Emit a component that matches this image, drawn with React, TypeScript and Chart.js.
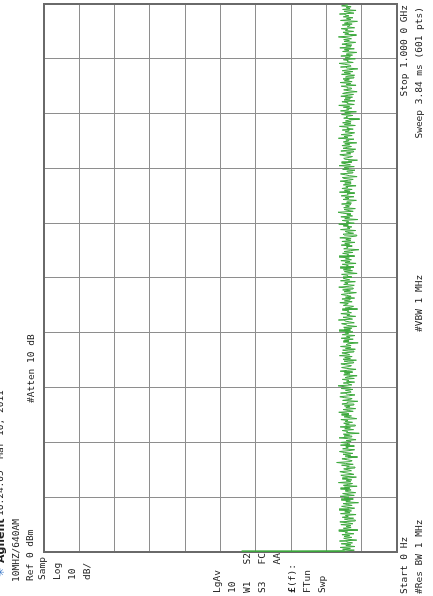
import React, { useEffect, useRef } from "react";
import { Chart, registerables } from "chart.js";

Chart.register(...registerables);

// ---- data ----
const startMHz = 0;
const stopMHz = 1000;
const sweepPoints = 601;
const refLevel = 0;
const dbPerDiv = 10;
const xDivisions = 10;
const yDivisions = 10;

// trace amplitude (dBm), 601 sweep points
const traceDbm: number[] = [
  -56.0, -85.2, -87.9, -84.6, -86.8, -83.9, -88.1, -85.5, -86.9, -84.2, -87.4, -85.8, -83.7, -88.6, -86.1, -84.9, -87.2, -85.0, -86.6, -84.4,
  -87.8, -85.3, -86.0, -83.5, -88.9, -86.4, -84.8, -87.0, -85.6, -86.9, -84.1, -87.5, -85.9, -83.8, -88.2, -86.3, -85.1, -87.7, -84.5, -86.2,
  -85.4, -88.4, -84.0, -86.7, -85.2, -87.1, -83.6, -86.5, -88.0, -85.7, -84.3, -87.3, -86.0, -84.7, -89.1, -85.5, -86.8, -84.2, -87.6, -85.0,
  -86.4, -83.9, -87.9, -85.8, -84.6, -88.3, -86.1, -85.3, -87.0, -84.0, -86.6, -85.1, -88.7, -84.8, -86.3, -87.4, -83.4, -86.9, -85.6, -87.2,
  -84.5, -86.0, -88.5, -85.2, -84.1, -87.8, -86.7, -85.0, -83.8, -87.1, -86.2, -84.9, -88.1, -85.7, -86.5, -84.3, -87.6, -85.4, -82.9, -86.8,
  -87.3, -85.9, -84.4, -86.1, -88.8, -85.3, -86.9, -84.7, -87.5, -85.1, -83.7, -86.4, -88.0, -84.6, -86.2, -85.5, -87.9, -84.0, -86.7, -85.8,
  -84.2, -87.0, -85.6, -88.4, -86.3, -83.6, -87.2, -85.0, -86.6, -84.8, -89.3, -85.7, -86.0, -84.5, -87.7, -85.2, -86.8, -83.9, -88.2, -85.4,
  -86.5, -84.9, -87.4, -85.3, -86.1, -84.1, -88.6, -86.9, -85.0, -87.1, -84.3, -86.4, -85.8, -83.5, -87.6, -86.2, -84.7, -88.3, -85.5, -86.7,
  -85.1, -87.8, -84.4, -86.0, -85.9, -88.9, -84.6, -86.6, -87.3, -85.2, -83.8, -86.3, -88.1, -85.6, -84.0, -87.0, -86.8, -85.4, -87.5, -84.2,
  -86.9, -85.0, -83.3, -87.2, -86.1, -84.8, -88.0, -85.7, -86.4, -84.5, -87.9, -85.3, -86.2, -88.7, -84.9, -86.7, -85.1, -87.4, -83.9, -86.0,
  -88.4, -85.8, -84.3, -86.5, -87.1, -85.5, -84.1, -87.7, -86.3, -85.0, -88.5, -84.7, -86.8, -85.2, -87.3, -83.7, -86.6, -85.9, -84.4, -87.8,
  -86.2, -84.6, -88.2, -85.4, -86.9, -84.0, -87.0, -85.6, -86.1, -89.0, -84.8, -86.4, -85.1, -87.6, -84.2, -86.7, -85.7, -88.1, -84.5, -86.3,
  -85.3, -87.5, -83.6, -86.8, -85.0, -87.2, -84.9, -88.6, -86.0, -85.5, -84.3, -87.9, -86.5, -85.2, -83.4, -87.4, -86.1, -84.7, -88.3, -85.8,
  -86.6, -84.1, -87.1, -85.9, -86.4, -84.5, -88.8, -85.3, -86.9, -87.7, -84.8, -85.6, -86.2, -83.8, -87.3, -85.1, -86.7, -84.4, -88.0, -85.4,
  -87.0, -85.7, -84.2, -86.3, -88.5, -85.0, -86.8, -84.6, -87.6, -85.8, -83.5, -86.5, -87.9, -84.9, -86.1, -85.2, -88.2, -84.0, -86.6, -85.5,
  -84.7, -87.2, -85.9, -86.0, -84.3, -88.7, -86.4, -85.1, -87.4, -84.8, -86.9, -83.9, -87.8, -85.6, -86.2, -84.5, -88.4, -85.3, -86.7, -84.1,
  -87.1, -85.4, -86.5, -83.6, -88.0, -85.8, -86.3, -84.6, -87.5, -85.0, -86.8, -89.2, -84.9, -86.1, -85.7, -87.3, -84.2, -86.6, -85.2, -88.1,
  -84.4, -86.9, -85.5, -87.0, -83.8, -86.4, -88.6, -85.1, -84.7, -87.7, -86.0, -85.3, -88.3, -84.0, -86.7, -85.9, -87.2, -84.8, -86.2, -83.5,
  -87.9, -85.6, -86.3, -84.5, -88.9, -85.2, -86.6, -84.1, -87.4, -85.8, -86.9, -84.6, -83.3, -87.6, -86.1, -85.0, -88.2, -84.9, -86.5, -85.4,
  -86.8, -84.3, -87.1, -85.7, -86.0, -88.5, -84.7, -86.4, -85.3, -87.8, -84.2, -86.2, -85.9, -88.0, -83.7, -86.7, -85.1, -87.3, -84.4, -86.1,
  -85.5, -88.4, -84.8, -86.9, -85.2, -87.0, -83.9, -86.3, -87.6, -85.0, -84.5, -88.7, -86.6, -85.4, -84.0, -87.5, -86.0, -85.8, -88.1, -84.6,
  -86.4, -85.1, -87.9, -83.6, -86.8, -85.6, -84.3, -87.2, -86.2, -88.8, -85.3, -84.9, -86.5, -87.4, -85.0, -83.8, -86.9, -85.7, -87.7, -84.1,
  -86.0, -88.3, -84.7, -85.9, -87.1, -84.4, -86.6, -85.2, -88.6, -84.8, -86.3, -85.5, -87.8, -83.4, -86.1, -85.0, -87.3, -84.2, -86.7, -88.0,
  -85.3, -86.4, -84.5, -87.6, -85.8, -86.2, -83.7, -88.2, -85.1, -86.9, -84.6, -87.0, -85.4, -86.5, -89.4, -84.9, -86.0, -85.6, -87.5, -84.3,
  -86.8, -85.2, -88.5, -84.0, -86.3, -85.7, -87.2, -84.8, -86.6, -83.5, -87.9, -85.9, -86.1, -84.4, -88.1, -85.0, -86.7, -85.3, -87.4, -84.1,
  -86.2, -87.7, -84.6, -85.5, -88.7, -86.4, -84.9, -87.1, -85.8, -86.0, -84.2, -88.4, -85.6, -86.9, -83.9, -87.3, -85.1, -86.5, -84.7, -87.8,
  -85.4, -86.1, -88.0, -84.3, -86.8, -85.0, -87.5, -84.5, -86.3, -88.9, -85.7, -84.0, -87.0, -86.6, -85.2, -83.6, -87.6, -85.9, -86.2, -84.8,
  -88.2, -85.3, -86.7, -84.1, -87.4, -85.6, -86.0, -88.6, -84.6, -86.4, -85.1, -87.9, -83.8, -86.9, -85.5, -87.2, -84.4, -86.1, -88.3, -85.0,
  -86.5, -84.9, -87.1, -85.8, -83.4, -86.8, -88.5, -85.2, -86.3, -84.7, -87.7, -85.4, -86.0, -84.2, -88.0, -85.9, -86.6, -84.5, -87.3, -85.1,
  -86.2, -88.8, -84.0, -86.9, -85.7, -87.5, -84.8, -86.4, -85.3, -83.7, -87.8, -86.1, -85.0, -88.4, -84.6, -86.7, -85.6, -87.0, -84.3, -86.0,
  -85.5,
];

// annotation texts
const headerLogo = "\u2733";
const headerBrand = "Agilent";
const headerTime = "16:24:05  Mar 10, 2011";
const headerLines = ["10MHZ/640AM", "Ref 0 dBm", "#Atten 10 dB"];
const leftTopLabels = ["Samp", "Log", "10", "dB/"];
const leftBottomLabels = ["LgAv", "10", "W1", "S3", "(f):", "FTun", "Swp"];
const leftBottomRightLabels = ["S2", "FC", "AA"];
const funcSymbol = "\u00A3";
const footerLeft = ["Start 0 Hz", "#Res BW 1 MHz"];
const footerMid = "#VBW 1 MHz";
const footerRight = ["Stop 1.000 0 GHz", "Sweep 3.84 ms (601 pts)"];

// ---- layout (original, unrotated orientation 596 x 433) ----
const W = 596;
const H = 433;
const FONT = '9.5px "DejaVu Sans Mono"';
const TEXT = "#222222";

export default function App() {
  const ref = useRef<HTMLCanvasElement | null>(null);

  useEffect(() => {
    const canvas = ref.current;
    if (!canvas) return;
    const step = (stopMHz - startMHz) / (sweepPoints - 1);
    const points = traceDbm.map((v, i) => ({ x: startMHz + i * step, y: v }));

    const framePlugin = {
      id: "frame",
      beforeDatasetsDraw(chart: any) {
        const { ctx, chartArea: a } = chart;
        ctx.save();
        ctx.strokeStyle = "#6a6a6a";
        ctx.lineWidth = 2;
        ctx.strokeRect(a.left, a.top, a.right - a.left, a.bottom - a.top);
        ctx.restore();
      },
    };

    const textPlugin = {
      id: "texts",
      afterDraw(chart: any) {
        const ctx: CanvasRenderingContext2D = chart.ctx;
        ctx.save();
        ctx.textBaseline = "middle";
        const put = (t: string, x: number, y: number, align: CanvasTextAlign = "left", font = FONT, color = TEXT) => {
          ctx.font = font;
          ctx.textAlign = align;
          ctx.fillStyle = color;
          ctx.fillText(t, x, y);
        };
        // header line 1 (clipped at top)
        put(headerLogo, 19, 1, "left", '11px "DejaVu Sans"', "#3a78c8");
        put(headerBrand, 33, 1, "left", 'bold 11px "DejaVu Sans"');
        put(headerTime, 80, 1);
        // header lines 2 and 3
        put(headerLines[0], 14, 17);
        put(headerLines[1], 15, 31);
        put(headerLines[2], 193, 32);
        // left column (top group)
        const topY = [43, 58, 73, 88];
        leftTopLabels.forEach((t, i) => put(t, 16, topY[i]));
        // left column (bottom group)
        const botY = [218, 233, 248, 263, 278, 293, 308, 323];
        put(leftBottomLabels[0], 3, botY[0]);
        put(leftBottomLabels[1], 3, botY[1]);
        put(leftBottomLabels[2], 3, botY[2]);
        put(leftBottomRightLabels[0], 43, botY[2], "right");
        put(leftBottomLabels[3], 3, botY[3]);
        put(leftBottomRightLabels[1], 43, botY[3], "right");
        put(leftBottomRightLabels[2], 43, botY[4], "right");
        put(funcSymbol, 3, botY[5], "left", 'bold 9.5px "DejaVu Sans Mono"');
        put(leftBottomLabels[4], 9, botY[5]);
        put(leftBottomLabels[5], 3, botY[6]);
        put(leftBottomLabels[6], 3, botY[7]);
        // footer
        put(footerLeft[0], 2, 405);
        put(footerLeft[1], 2, 420);
        put(footerMid, 264, 420);
        put(footerRight[0], 591, 405, "right");
        put(footerRight[1], 589, 420, "right");
        ctx.restore();
      },
    };

    const gridColor = "#8e8e8e";
    const chart = new Chart(canvas, {
      type: "line",
      data: {
        datasets: [
          {
            data: points,
            borderColor: "#3ba83b",
            borderWidth: 1,
            pointRadius: 0,
            tension: 0,
            fill: false,
          },
        ],
      },
      options: {
        animation: false,
        responsive: false,
        devicePixelRatio: 1,
        layout: { padding: { left: 44, right: 4, top: 44, bottom: 36 } },
        plugins: { legend: { display: false }, tooltip: { enabled: false } },
        scales: {
          x: {
            type: "linear",
            min: startMHz,
            max: stopMHz,
            ticks: { display: false, stepSize: (stopMHz - startMHz) / xDivisions },
            grid: { color: gridColor, lineWidth: 1, drawTicks: false },
            border: { display: false },
            afterFit: (s: any) => {
              s.height = 0;
            },
          },
          y: {
            type: "linear",
            min: refLevel - dbPerDiv * yDivisions,
            max: refLevel,
            ticks: { display: false, stepSize: dbPerDiv },
            grid: { color: gridColor, lineWidth: 1, drawTicks: false },
            border: { display: false },
            afterFit: (s: any) => {
              s.width = 0;
            },
          },
        },
      } as any,
      plugins: [framePlugin, textPlugin],
    });
    return () => chart.destroy();
  }, []);

  return (
    <div
      style={{
        position: "fixed",
        left: 0,
        top: 0,
        width: H,
        height: W,
        overflow: "hidden",
        background: "#ffffff",
      }}
    >
      <canvas
        ref={ref}
        width={W}
        height={H}
        style={{
          position: "absolute",
          left: 0,
          top: 0,
          width: W,
          height: H,
          transformOrigin: "0 0",
          transform: `translate(0px, ${W}px) rotate(-90deg)`,
        }}
      />
    </div>
  );
}
